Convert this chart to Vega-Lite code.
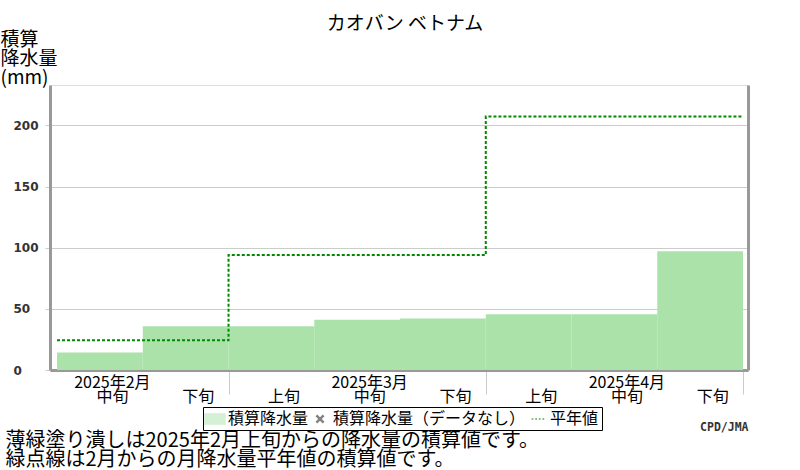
{
  "$schema": "https://vega.github.io/schema/vega-lite/v6.json",
  "width": 698,
  "height": 285,
  "autosize": "none",
  "padding": {"left": 50, "top": 85, "right": 52, "bottom": 100},
  "title": {
    "text": "カオバン ベトナム",
    "font": "Noto Sans CJK JP",
    "fontSize": 19,
    "fontWeight": "normal",
    "color": "black",
    "anchor": "middle",
    "offset": -4,
    "dx": 6
  },
  "datasets": {
    "precip": [
      {"dekad": "2月中旬", "start": 0, "end": 1, "precip": 14.3},
      {"dekad": "2月下旬", "start": 1, "end": 2, "precip": 35.7},
      {"dekad": "3月上旬", "start": 2, "end": 3, "precip": 35.7},
      {"dekad": "3月中旬", "start": 3, "end": 4, "precip": 41.1},
      {"dekad": "3月下旬", "start": 4, "end": 5, "precip": 42.2},
      {"dekad": "4月上旬", "start": 5, "end": 6, "precip": 45.5},
      {"dekad": "4月中旬", "start": 6, "end": 7, "precip": 45.5},
      {"dekad": "4月下旬", "start": 7, "end": 8, "precip": 97.1}
    ],
    "normal": [
      {"month": "2月", "start": 0, "normal": 24.4},
      {"month": "3月", "start": 2, "normal": 94.1},
      {"month": "4月", "start": 5, "normal": 207.2},
      {"month": "4月末", "start": 8, "normal": 207.2}
    ],
    "legend": [
      {"series": "積算降水量"},
      {"series": "積算降水量（データなし）"},
      {"series": "平年値"}
    ]
  },
  "layer": [
    {
      "data": {"name": "precip"},
      "mark": {"type": "rect", "color": "#aae2aa"},
      "encoding": {
        "x": {
          "field": "start",
          "type": "quantitative",
          "scale": {"domain": [-0.082, 8.058], "nice": false, "zero": false},
          "axis": {
            "values": [0.5, 1.5, 2, 2.5, 3.5, 4.5, 5, 5.5, 6.5, 7.5, 8],
            "labelExpr": "datum.value % 1 === 0 ? '' : [['2025年2月','中旬'],['','下旬'],['','上旬'],['2025年3月','中旬'],['','下旬'],['','上旬'],['2025年4月','中旬'],['','下旬']][floor(datum.value)]",
            "labelFont": "Noto Sans CJK JP",
            "labelFontSize": 16,
            "labelColor": "black",
            "labelLineHeight": 14,
            "labelBaseline": "top",
            "labelPadding": -20,
            "labelOffset": 12,
            "labelOverlap": false,
            "labelBound": false,
            "labelFlush": false,
            "tickSize": 24,
            "tickColor": "#cccccc",
            "tickWidth": 1,
            "tickOpacity": {"condition": {"test": "datum.value % 1 !== 0", "value": 0}, "value": 1},
            "domainColor": "#999999",
            "domainWidth": 3,
            "grid": false,
            "title": ["薄緑塗り潰しは2025年2月上旬からの降水量の積算値です。", "緑点線は2月からの月降水量平年値の積算値です。"],
            "titleFont": "Noto Sans CJK JP",
            "titleFontSize": 20,
            "titleFontWeight": "normal",
            "titleColor": "black",
            "titleLineHeight": 19,
            "titleAnchor": "start",
            "titleAlign": "left",
            "titleBaseline": "top",
            "titleX": -45,
            "titleY": 60
          }
        },
        "x2": {"field": "end"},
        "y": {
          "field": "precip",
          "type": "quantitative",
          "scale": {"domain": [0, 233], "nice": false},
          "axis": {
            "values": [0, 50, 100, 150, 200],
            "labelFont": "DejaVu Sans",
            "labelFontWeight": "bold",
            "labelFontSize": 12,
            "labelColor": "#333333",
            "labelAlign": "left",
            "labelPadding": 32,
            "tickSize": 5,
            "tickColor": "#cccccc",
            "gridColor": "#cccccc",
            "domainColor": "#999999",
            "domainWidth": 3,
            "title": ["積算", "降水量", "(mm)"],
            "titleFont": "Noto Sans CJK JP",
            "titleFontSize": 19,
            "titleFontWeight": "normal",
            "titleColor": "black",
            "titleLineHeight": 19,
            "titleAngle": 0,
            "titleAlign": "left",
            "titleBaseline": "top",
            "titleX": -50,
            "titleY": -55
          }
        }
      }
    },
    {
      "data": {"name": "normal"},
      "mark": {
        "type": "line",
        "interpolate": "step-after",
        "color": "#008800",
        "strokeWidth": 2,
        "strokeDash": [3, 2]
      },
      "encoding": {
        "x": {"field": "start", "type": "quantitative"},
        "y": {
          "field": "normal",
          "type": "quantitative",
          "axis": {
            "orient": "right",
            "labels": false,
            "ticks": false,
            "grid": false,
            "domainColor": "#999999",
            "domainWidth": 3,
            "title": "CPD/JMA",
            "titleFont": "DejaVu Sans Mono",
            "titleFontSize": 11.5,
            "titleFontWeight": "bold",
            "titleColor": "#333333",
            "titleAngle": 0,
            "titleAlign": "right",
            "titleBaseline": "middle",
            "titleX": 0,
            "titleY": 342
          }
        }
      }
    },
    {
      "data": {"name": "legend"},
      "mark": {"type": "point", "filled": true},
      "encoding": {
        "size": {"value": 0},
        "color": {
          "field": "series",
          "type": "nominal",
          "scale": {
            "domain": ["積算降水量", "積算降水量（データなし）", "平年値"],
            "range": ["#aae2aa", "#000000", "#008800"]
          },
          "legend": {
            "orient": "none",
            "legendX": 153,
            "legendY": 322,
            "direction": "horizontal",
            "title": null,
            "strokeColor": "black",
            "fillColor": "white",
            "padding": 3,
            "columnPadding": 2,
            "labelOffset": 4,
            "symbolSize": 324,
            "symbolOpacity": 1,
            "symbolStrokeWidth": 0,
            "labelFont": "Noto Sans CJK JP",
            "labelFontSize": 16,
            "labelColor": "black",
            "labelLimit": 0
          }
        },
        "shape": {
          "field": "series",
          "type": "nominal",
          "scale": {
            "domain": ["積算降水量", "積算降水量（データなし）", "平年値"],
            "range": [
              "M-1.2,-0.65H1.2V0.65H-1.2Z",
              "M-0.5,-0.3L-0.3,-0.5L0,-0.2L0.3,-0.5L0.5,-0.3L0.2,0L0.5,0.3L0.3,0.5L0,0.2L-0.3,0.5L-0.5,0.3L-0.2,0Z",
              "M-0.6,-0.1H-0.4V0.1H-0.6Z M-0.2,-0.1H0V0.1H-0.2Z M0.2,-0.1H0.4V0.1H0.2Z M0.6,-0.1H0.8V0.1H0.6Z"
            ]
          }
        }
      }
    }
  ],
  "resolve": {"axis": {"y": "independent"}}
}
